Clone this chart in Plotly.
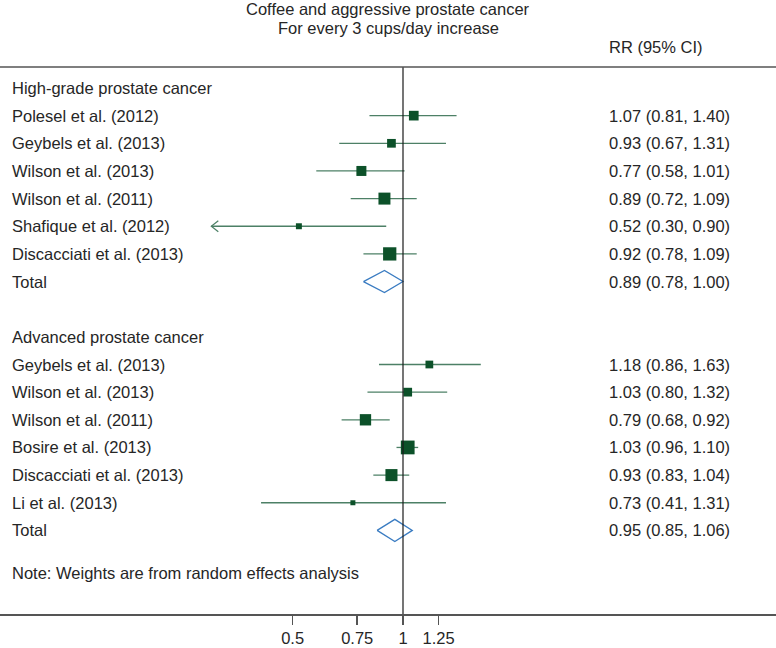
import numpy as np
import plotly.graph_objects as go

# ---------------- data ----------------
title_lines = ["Coffee and aggressive prostate cancer", "For every 3 cups/day increase"]
col_header = "RR (95% CI)"
group_names = ["High-grade prostate cancer", "Advanced prostate cancer"]

hg_studies = ["Polesel et al. (2012)", "Geybels et al. (2013)", "Wilson et al. (2013)",
              "Wilson et al. (2011)", "Shafique et al. (2012)", "Discacciati et al. (2013)"]
hg_rr = [1.07, 0.93, 0.77, 0.89, 0.52, 0.92]
hg_lo = [0.81, 0.67, 0.58, 0.72, 0.30, 0.78]
hg_hi = [1.40, 1.31, 1.01, 1.09, 0.90, 1.09]
hg_weight = [15.0, 12.1, 16.0, 23.0, 5.7, 28.2]
hg_total = [0.89, 0.78, 1.00]

adv_studies = ["Geybels et al. (2013)", "Wilson et al. (2013)", "Wilson et al. (2011)",
               "Bosire et al. (2013)", "Discacciati et al. (2013)", "Li et al. (2013)"]
adv_rr = [1.18, 1.03, 0.79, 1.03, 0.93, 0.73]
adv_lo = [0.86, 0.80, 0.68, 0.96, 0.83, 0.41]
adv_hi = [1.63, 1.32, 0.92, 1.10, 1.04, 1.31]
adv_weight = [9.6, 12.2, 20.6, 30.3, 23.2, 4.0]
adv_total = [0.95, 0.85, 1.06]

total_label = "Total"
note_text = "Note: Weights are from random effects analysis"
x_ticks = [0.5, 0.75, 1, 1.25]
x_clip = 0.30  # CI lower limits at/below this are drawn with an arrow

# ---------------- styles ----------------
FONT = "Liberation Sans, Arial, Helvetica, sans-serif"
FS = 16.5
TXT = "#262626"
BOX = "#0c5129"
CIC = "#4d8066"
DIA = "#3a7cc2"

W, H = 776, 648
top_px, bot_px = 67, 614
row0_px, row_step = 88, 27.65
y_top = (top_px - row0_px) / row_step
y_bot = (bot_px - row0_px) / row_step
px_per_log10 = 366.6
x1_px = 403
x_range = [-x1_px / px_per_log10, (W - x1_px) / px_per_log10]
plot_h = bot_px - top_px

def paper_y(px):
    return (bot_px - px) / plot_h

fig = go.Figure()
annotations = []

def fmt(rr, lo, hi):
    return f"{rr:.2f} ({lo:.2f}, {hi:.2f})"

def add_text(text, xpx, y, yref="y", anchor="left"):
    annotations.append(dict(x=xpx / W, xref="paper", y=y, yref=yref, text=text,
                            showarrow=False, xanchor=anchor, yanchor="middle",
                            font=dict(family=FONT, size=FS, color=TXT)))

LAB_X = 12 - 2
RR_X = 609 - 2

def add_group(start_row, name, studies, rr, lo, hi, wt, total):
    add_text(name, LAB_X, start_row)
    rows = [start_row + 1 + i for i in range(len(studies))]
    xs, ys = [], []
    for r, l, h in zip(rows, lo, hi):
        xs += [l, h, None]
        ys += [r, r, None]
        if l <= x_clip:
            f = 10 ** (7 / px_per_log10)
            fig.add_trace(go.Scatter(x=[l * f, l, l * f], y=[r - 0.2, r, r + 0.2],
                                     mode="lines", line=dict(color=CIC, width=1.2),
                                     hoverinfo="skip", showlegend=False))
    fig.add_trace(go.Scatter(x=xs, y=ys, mode="lines", line=dict(color=CIC, width=1.3),
                             hoverinfo="skip", showlegend=False))
    sizes = [2.5 * np.sqrt(w) for w in wt]
    fig.add_trace(go.Scatter(x=rr, y=rows, mode="markers",
                             marker=dict(symbol="square", size=sizes, color=BOX,
                                         opacity=1, line=dict(width=0)),
                             showlegend=False))
    for s, r, a, l, h in zip(studies, rows, rr, lo, hi):
        add_text(s, LAB_X, r)
        add_text(fmt(a, l, h), RR_X, r)
    tr = start_row + 1 + len(studies)
    est, tlo, thi = total
    fig.add_trace(go.Scatter(x=[tlo, est, thi, est, tlo], y=[tr, tr - 0.4, tr, tr + 0.4, tr],
                             mode="lines", fill="toself", fillcolor="white",
                             line=dict(color=DIA, width=1.3), hoverinfo="skip",
                             showlegend=False))
    add_text(total_label, LAB_X, tr)
    add_text(fmt(est, tlo, thi), RR_X, tr)
    return tr

end1 = add_group(0, group_names[0], hg_studies, hg_rr, hg_lo, hg_hi, hg_weight, hg_total)
end2 = add_group(end1 + 2, group_names[1], adv_studies, adv_rr, adv_lo, adv_hi, adv_weight, adv_total)
add_text(note_text, LAB_X, end2 + 1.53)

# reference line at RR = 1
fig.add_trace(go.Scatter(x=[1, 1], y=[y_top, y_bot], mode="lines",
                         line=dict(color="#1a1a1a", width=1.2), hoverinfo="skip",
                         showlegend=False))

# title and column header
add_text(title_lines[0], 388, paper_y(9.5), yref="paper", anchor="center")
add_text(title_lines[1], 388, paper_y(28), yref="paper", anchor="center")
add_text(col_header, RR_X, paper_y(47), yref="paper")

fig.update_layout(
    width=W, height=H,
    margin=dict(l=0, r=0, t=top_px, b=H - bot_px, pad=0),
    paper_bgcolor="white", plot_bgcolor="white",
    annotations=annotations,
    shapes=[dict(type="line", xref="paper", yref="paper", x0=0, x1=1, y0=1, y1=1,
                 line=dict(color="#555555", width=1.5))],
    showlegend=False,
    hovermode=False,
    xaxis=dict(type="log", range=x_range, tickvals=x_ticks,
               ticktext=[str(t) for t in x_ticks], showgrid=False, zeroline=False,
               showline=True, linecolor="#555555", linewidth=1.5,
               ticks="outside", ticklen=9, tickwidth=1.5, tickcolor="#555555",
               tickfont=dict(family=FONT, size=FS, color=TXT), fixedrange=True),
    yaxis=dict(range=[y_bot, y_top], visible=False, showgrid=False, zeroline=False,
               fixedrange=True),
)

fig.write_html("out.html",
               config={"displayModeBar": False, "staticPlot": True},
               post_script="document.body.style.margin='0px';"
                           "document.body.style.overflow='hidden';")
